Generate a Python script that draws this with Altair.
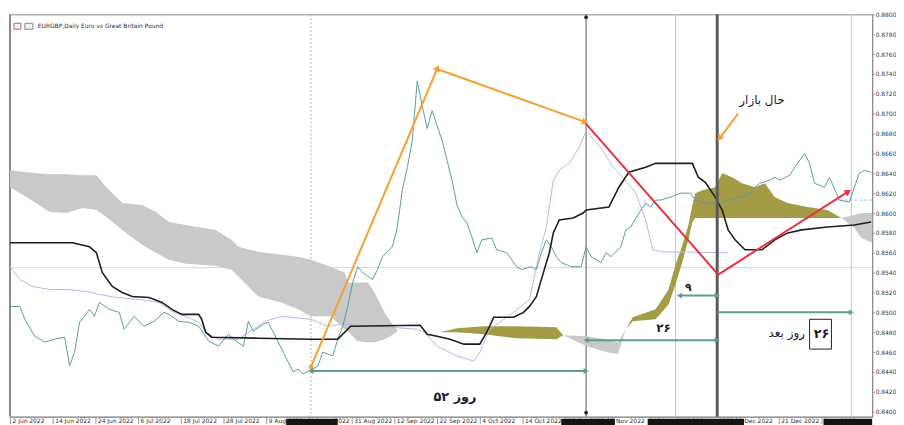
import json
import math
import altair as alt
import pandas as pd

# ---------------- data (bar index, price) ----------------
X_DOMAIN = [0, 173.6]
Y_DOMAIN = [0.8395, 0.8800]
PLOT_W, PLOT_H = 868, 405

close_series = [
    (0, .8506), (2, .8506), (3, .8493), (5, .8476), (7, .8470), (9, .8473), (11, .8475), (12, .8446),
    (13, .8460), (14, .8490), (15, .8496), (16, .8503), (17, .8496), (18, .8510), (20, .8503), (22, .8500),
    (23, .8483), (25, .8496), (27, .8486), (29, .8491), (31, .8500), (32, .8498), (34, .8491), (36, .8490),
    (38, .8486), (40, .8471), (42, .8466), (44, .8478), (45, .8473), (47, .8466), (48, .8491), (49, .8481),
    (51, .8488), (52, .8490), (53, .8480), (55, .8460), (57, .8440), (58, .8443), (59, .8438), (61, .8443),
    (62, .8446), (63, .8460), (65, .8456), (66, .8473), (67, .8486), (68, .8506), (69, .8530), (70, .8546),
    (71, .8540), (73, .8533), (74, .8543), (75, .8556), (77, .8566), (78, .8586), (79, .8623), (80, .8646),
    (81, .8673), (82, .8733), (83, .8708), (84, .8685), (85, .8703), (86, .8688), (87, .8673), (88, .8653),
    (89, .8633), (90, .8608), (91, .8596), (92, .8590), (93, .8576), (94, .8560), (95, .8573), (97, .8575),
    (98, .8563), (100, .8560), (102, .8546), (103, .8543), (105, .8546), (106, .8543), (107, .8560), (108, .8573),
    (109, .8566), (110, .8556), (111, .8550), (113, .8546), (115, .8546), (116, .8566), (117, .8556), (119, .8550),
    (120, .8560), (121, .8556), (123, .8566), (124, .8583), (125, .8586), (127, .8603), (128, .8610), (129, .8606),
    (130, .8613), (131, .8613), (133, .8616), (135, .8620), (137, .8620), (138, .8613), (140, .8610), (143, .8610),
    (145, .8613), (147, .8616), (149, .8620), (150, .8626), (151, .8630), (153, .8633), (154, .8636), (155, .8633),
    (157, .8638), (158, .8646), (160, .8660), (161, .8650), (162, .8630), (164, .8626), (165, .8636), (167, .8613),
    (169, .8611), (171, .8640), (172, .8643), (173.4, .8641),
]

base_series = [
    (0, .8570), (12.6, .8570), (16, .8566), (17.4, .8560), (18.6, .8540), (20.6, .8526), (22.6, .8520),
    (24.6, .8516), (28, .8515), (30.6, .8510), (32.6, .8503), (34.6, .8498), (38, .8498), (38.6, .8493),
    (39.4, .8480), (40.6, .8475), (50, .8474), (60.6, .8473), (66, .8473), (68.6, .8486), (82.6, .8487),
    (84, .8478), (86, .8476), (88.6, .8473), (91.4, .8468), (94.6, .8468), (96, .8480), (97.4, .8495),
    (101.4, .8495), (103.4, .8500), (104.6, .8506), (106, .8516), (107.4, .8540), (108.6, .8560),
    (109.4, .8580), (110.6, .8593), (113.4, .8595), (115.4, .8600), (116, .8603), (120.6, .8606),
    (122.6, .8626), (124.6, .8641), (128, .8646), (130, .8650), (137.4, .8650), (138.6, .8636), (140, .8631),
    (142, .8616), (143.4, .8603), (144.6, .8583), (146, .8573), (148, .8563), (151.4, .8563), (154, .8573),
    (156.6, .8580), (159.4, .8583), (164.6, .8586), (170, .8588), (173.4, .8591),
]

conversion_series = [
    (0, .8546), (2, .8533), (4.6, .8526), (8, .8523), (11.4, .8523), (15.4, .8521), (18, .8518), (21.4, .8515),
    (26, .8513), (30, .8510), (32.6, .8501), (35.4, .8496), (38, .8490), (39.4, .8480), (42, .8473), (46, .8473),
    (51.4, .8491), (54.6, .8496), (60.6, .8493), (64, .8486), (67, .8488), (74, .8486), (82, .8483),
    (83.4, .8480), (86, .8466), (90, .8456), (93.4, .8451), (94.6, .8460), (96.6, .8483), (101.4, .8500),
    (104.6, .8513), (106.6, .8560), (108, .8586), (109.4, .8633), (110.6, .8643), (112.6, .8650),
    (114.6, .8666), (116, .8683), (119.4, .8663), (121.4, .8646), (123.4, .8636), (126, .8620), (128, .8593),
    (129.4, .8563), (131.4, .8561), (144.6, .8560),
]
conversion_tail = [(166, .8613), (173.6, .8613)]

# cloud segments: (bar, span A, span B)
cloud_gray_1 = [
    (0, .8643, .8626), (3.4, .8641, .8616), (8, .8639, .8601), (11.4, .8639, .8600), (14.6, .8638, .8605),
    (17.4, .8638, .8603), (19.4, .8626, .8596), (22.6, .8610, .8583), (26.6, .8608, .8568), (29.4, .8601, .8560),
    (32, .8591, .8553), (35.4, .8588, .8549), (41.4, .8583, .8547), (44.6, .8573, .8543), (46, .8566, .8536),
    (50, .8561, .8516), (54.6, .8558, .8510), (58, .8556, .8503), (60.6, .8553, .8496), (64.6, .8546, .8496),
    (67.4, .8540, .8483), (68, .8530, .8481), (70, .8530, .8471), (72, .8530, .8470), (73.4, .8520, .8470),
    (75.4, .8500, .8473), (76.6, .8491, .8476), (78, .8482, .8481),
]
cloud_olive_1 = [(86.6, .8480, .8480), (90, .8484, .8480), (95.4, .8486, .8478), (102, .8486, .8474),
                 (110, .8485, .8473), (111.4, .8477, .8477)]
cloud_gray_2 = [(111.4, .8477, .8477), (116, .8476, .8466), (120, .8473, .8460), (122.4, .8470, .8458),
                (124, .8483, .8483)]
cloud_olive_2 = [
    (124, .8483, .8483), (125.4, .8495, .8491), (130, .8503, .8493), (132.6, .8523, .8508), (134, .8548, .8528),
    (135.4, .8568, .8551), (136.6, .8588, .8573), (137.4, .8608, .8591), (138, .8620, .8595), (139.4, .8623, .8595),
    (142, .8626, .8595), (143.4, .8640, .8595), (145.4, .8636, .8595), (147.4, .8630, .8595), (150, .8626, .8595),
    (152, .8630, .8595), (154, .8616, .8595), (156.6, .8610, .8595), (160.6, .8606, .8595), (164.6, .8603, .8595),
    (167.4, .8595, .8595),
]
cloud_gray_3 = [(167.4, .8595, .8595), (170, .8598, .8585), (171.4, .8600, .8575), (173.6, .8600, .8570)]

orange_path = [(60.6, .8445), (86, .8745), (115.6, .8692)]
red_path = [(115.6, .8692), (142.6, .8538), (168.6, .8621)]
pointer_path = [(146.6, .8700), (143.0, .8676)]

# horizontal day-count arrows: (start bar, end bar, price, head at start, head at end)
span_arrows = [(60.6, 116, .8441, True, True), (116, 142.4, .8472, True, True),
               (134.8, 142.4, .8517, True, True), (142.4, 169.4, .8500, False, True)]

vline_dotted = [60.6]
vline_light = [134, 169.4]
vline_dark = [116]
vline_thick = [142.4]
hline_light = [.8545]
dark_dots = [(116, .8797), (116, .8399)]

bold_labels = [("۵۲ روز", 89.6, .8415, 13), ("۲۶", 131.6, .8484, 12), ("۹", 136.6, .8524, 11),
               ("۲۶", 163.4, .8478, 13)]
plain_labels = [("حال بازار", 151.4, .8714, 12), ("روز بعد", 156.4, .8479, 12)]
label_box = [(161, 165.4, .8493, .8463)]

title_text = "EURGBP,Daily  Euro vs Great Britain Pound"
icon_boxes = [(0.8, 2.2, .8791, .8785, "#d05a6a"), (3.0, 4.6, .8791, .8785, "#888888")]

# highlighted (dark) date boxes on the time scale
dark_date_boxes = [(55.6, 66), (111, 121.8), (128.4, 147.8), (163.8, 173.6)]

y_ticks = [0.8400, 0.8420, 0.8440, 0.8460, 0.8480, 0.8500, 0.8520, 0.8540, 0.8560, 0.8580, 0.8600,
           0.8620, 0.8640, 0.8660, 0.8680, 0.8700, 0.8720, 0.8740, 0.8760, 0.8780, 0.8800]
x_ticks = [0, 8.6, 17.2, 25.8, 34.4, 43, 51.6, 60.2, 68.8, 77.4, 86, 94.6, 103.2, 111.8, 120.4, 129,
           137.6, 146.2, 154.8, 163.4]
x_tick_labels = ["2 Jun 2022", "14 Jun 2022", "24 Jun 2022", "6 Jul 2022", "18 Jul 2022", "28 Jul 2022",
                 "9 Aug 2022", "19 Aug 2022", "31 Aug 2022", "12 Sep 2022", "22 Sep 2022", "4 Oct 2022",
                 "14 Oct 2022", "26 Oct 2022", "7 Nov 2022", "17 Nov 2022", "29 Nov 2022", "9 Dec 2022",
                 "21 Dec 2022", "3 Jan 2023"]

# ---------------- scales / axes ----------------
XS = alt.Scale(domain=X_DOMAIN, nice=False, zero=False)
YS = alt.Scale(domain=Y_DOMAIN, nice=False, zero=False)
XA = alt.Axis(values=x_ticks, labelExpr=json.dumps(x_tick_labels) + "[round(datum.value/8.6)]",
              title=None, grid=False, labelFontSize=6, labelColor="#333", tickSize=7,
              domainColor="#8a8a8a", tickColor="#9a9a9a", labelFont="DejaVu Sans", labelPadding=-6,
              labelAlign="left", labelBaseline="top", labelOffset=2, labelOverlap=False, labelFlush=False)
YA = alt.Axis(values=y_ticks, format=".4f", orient="right", title=None, grid=False, labelFontSize=6,
              labelColor="#333", tickSize=2, domainColor="#8a8a8a", tickColor="#8a8a8a",
              labelFont="DejaVu Sans", labelPadding=1)


def X(f):
    return alt.X(f, type="quantitative", scale=XS, axis=XA)


def Y(f):
    return alt.Y(f, type="quantitative", scale=YS, axis=YA)


def pts(rows):
    return pd.DataFrame(rows, columns=["bar", "price"])


# ---------------- layers ----------------
layers = []

layers.append(alt.Chart(pd.DataFrame({"price": hline_light})).mark_rule(color="#d6d6d6", strokeWidth=1)
              .encode(y=Y("price")))
layers.append(alt.Chart(pd.DataFrame({"bar": vline_dotted})).mark_rule(color="#b0b0b0", strokeWidth=1,
                                                                       strokeDash=[2, 2])
              .encode(x=X("bar")))
layers.append(alt.Chart(pd.DataFrame({"bar": vline_light})).mark_rule(color="#c4c4c4", strokeWidth=1)
              .encode(x=X("bar")))
layers.append(alt.Chart(pd.DataFrame({"bar": vline_dark})).mark_rule(color="#555555", strokeWidth=1)
              .encode(x=X("bar")))
layers.append(alt.Chart(pd.DataFrame({"bar": [0]})).mark_rule(color="#8c8c8c", strokeWidth=2)
              .encode(x=X("bar")))

cloud_rows = []
for seg, (kind, rows) in enumerate([("gray", cloud_gray_1), ("olive", cloud_olive_1), ("gray", cloud_gray_2),
                                    ("olive", cloud_olive_2), ("gray", cloud_gray_3)]):
    for b, a, c in rows:
        cloud_rows.append({"seg": seg, "kind": kind, "bar": b, "a": a, "b": c})
layers.append(alt.Chart(pd.DataFrame(cloud_rows)).mark_area(opacity=1, interpolate="linear")
              .encode(x=X("bar"), y=Y("a"), y2=alt.Y2("b"), detail="seg:N",
                      color=alt.Color("kind:N", scale=alt.Scale(domain=["gray", "olive"],
                                                                range=["#c9c9c9", "#a39c45"]), legend=None)))

layers.append(alt.Chart(pts(conversion_series)).mark_line(color="#b9b7e8", strokeWidth=1)
              .encode(x=X("bar"), y=Y("price")))
layers.append(alt.Chart(pts(conversion_tail)).mark_line(color="#b9b7e8", strokeWidth=1, strokeDash=[3, 2])
              .encode(x=X("bar"), y=Y("price")))
layers.append(alt.Chart(pts(close_series)).mark_line(color="#5a9e9e", strokeWidth=1)
              .encode(x=X("bar"), y=Y("price")))
layers.append(alt.Chart(pts(base_series)).mark_line(color="#1e1e1e", strokeWidth=1.6)
              .encode(x=X("bar"), y=Y("price")))

layers.append(alt.Chart(pd.DataFrame({"bar": vline_thick})).mark_rule(color="#5a5a5a", strokeWidth=3)
              .encode(x=X("bar")))

layers.append(alt.Chart(pts(orange_path)).mark_line(color="#f5a030", strokeWidth=2)
              .encode(x=X("bar"), y=Y("price")))
layers.append(alt.Chart(pts(red_path)).mark_line(color="#e8313f", strokeWidth=2)
              .encode(x=X("bar"), y=Y("price")))
layers.append(alt.Chart(pts(pointer_path)).mark_line(color="#f0a040", strokeWidth=2)
              .encode(x=X("bar"), y=Y("price")))

# arrow heads on the slanted arrows
ppx = PLOT_W / (X_DOMAIN[1] - X_DOMAIN[0])
ppy = PLOT_H / (Y_DOMAIN[1] - Y_DOMAIN[0])


def head(p_from, p_to, col):
    dx = (p_to[0] - p_from[0]) * ppx
    dy = (p_to[1] - p_from[1]) * ppy
    ang = math.degrees(math.atan2(dx, dy)) % 360
    return {"bar": p_to[0], "price": p_to[1], "ang": ang, "col": col}


heads = [head(orange_path[0], orange_path[1], "#f5a030"), head(orange_path[1], orange_path[2], "#f5a030"),
         head(red_path[1], red_path[2], "#e8313f"), head(pointer_path[0], pointer_path[1], "#f0a040")]
layers.append(alt.Chart(pd.DataFrame(heads)).mark_point(shape="triangle", filled=True, size=55, opacity=1)
              .encode(x=X("bar"), y=Y("price"), angle=alt.Angle("ang:Q", scale=None),
                      color=alt.Color("col:N", scale=None)))
layers.append(alt.Chart(pts([orange_path[0]])).mark_point(shape="circle", filled=True, size=20, color="#f5a030",
                                                          opacity=1)
              .encode(x=X("bar"), y=Y("price")))

# horizontal day-count arrows
span_df = pd.DataFrame([{"x1": a, "x2": b, "price": p} for a, b, p, _, _ in span_arrows])
layers.append(alt.Chart(span_df).mark_rule(color="#5f9e8f", strokeWidth=2)
              .encode(x=X("x1"), x2=alt.X2("x2"), y=Y("price")))
span_heads = []
for a, b, p, hl, hr in span_arrows:
    if hl:
        span_heads.append({"bar": a, "price": p, "shape": "triangle-left"})
    if hr:
        span_heads.append({"bar": b, "price": p, "shape": "triangle-right"})
layers.append(alt.Chart(pd.DataFrame(span_heads)).mark_point(filled=True, size=35, color="#5f9e8f", opacity=1)
              .encode(x=X("bar"), y=Y("price"), shape=alt.Shape("shape:N", scale=None)))

layers.append(alt.Chart(pts(dark_dots)).mark_point(shape="circle", filled=True, size=14, color="#222",
                                                   opacity=1)
              .encode(x=X("bar"), y=Y("price")))

# labels
bold_df = pd.DataFrame(bold_labels, columns=["t", "bar", "price", "fs"])
plain_df = pd.DataFrame(plain_labels, columns=["t", "bar", "price", "fs"])
layers.append(alt.Chart(bold_df).mark_text(font="DejaVu Sans", fontWeight="bold", color="#1b1b2f",
                                           align="center", baseline="middle", dir="rtl")
              .encode(x=X("bar"), y=Y("price"), text="t:N", size=alt.Size("fs:Q", scale=None)))
layers.append(alt.Chart(plain_df).mark_text(font="DejaVu Sans", color="#1b1b2f",
                                            align="center", baseline="middle", dir="rtl")
              .encode(x=X("bar"), y=Y("price"), text="t:N", size=alt.Size("fs:Q", scale=None)))
box_df = pd.DataFrame(label_box, columns=["x1", "x2", "y1", "y2"])
layers.append(alt.Chart(box_df).mark_rect(fill=None, stroke="#222", strokeWidth=1)
              .encode(x=X("x1"), x2=alt.X2("x2"), y=Y("y1"), y2=alt.Y2("y2")))

# header
icon_df = pd.DataFrame(icon_boxes, columns=["x1", "x2", "y1", "y2", "col"])
layers.append(alt.Chart(icon_df).mark_rect(fill="#f4f4f4", strokeWidth=1)
              .encode(x=X("x1"), x2=alt.X2("x2"), y=Y("y1"), y2=alt.Y2("y2"),
                      stroke=alt.Stroke("col:N", scale=None)))
layers.append(alt.Chart(pd.DataFrame([{"t": title_text, "bar": 5.6, "price": .8788}]))
              .mark_text(font="DejaVu Sans", fontSize=6, color="#333", align="left", baseline="middle")
              .encode(x=X("bar"), y=Y("price"), text="t:N"))

# dark highlighted date boxes below the plot
dbox_df = pd.DataFrame(dark_date_boxes, columns=["x1", "x2"])
layers.append(alt.Chart(dbox_df).mark_rect(color="#151515")
              .encode(x=X("x1"), x2=alt.X2("x2"), y=alt.value(PLOT_H + 2), y2=alt.value(PLOT_H + 9)))

chart = alt.layer(*layers).properties(
    width=PLOT_W, height=PLOT_H,
    autosize=alt.AutoSizeParams(type="none"),
    padding={"left": 2, "top": 5, "right": 24, "bottom": 7},
    background="white",
).configure_view(stroke="#8a8a8a", strokeWidth=1)

chart.save("out.html", embed_options={"renderer": "svg", "actions": False})
